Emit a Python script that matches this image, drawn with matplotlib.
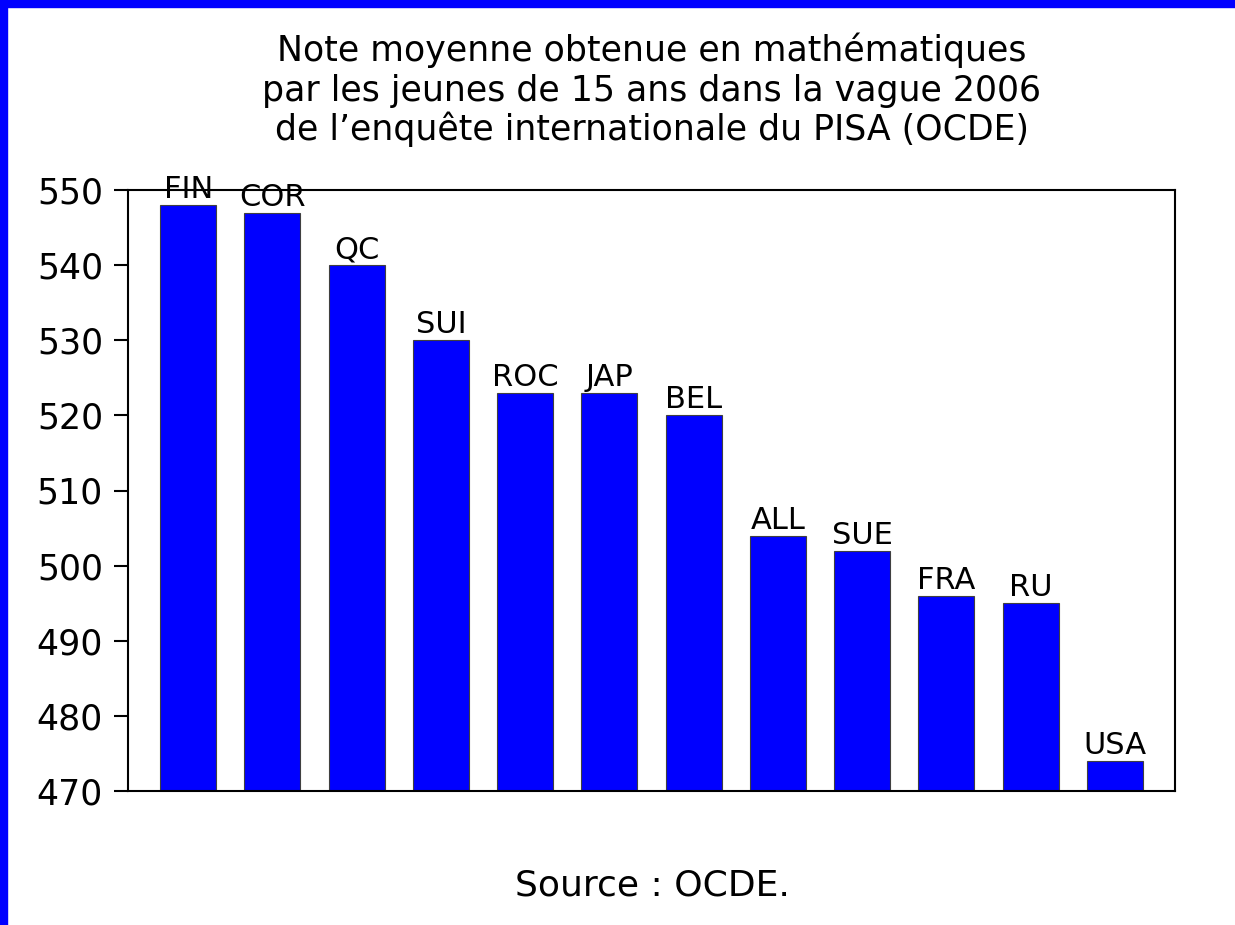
import matplotlib
matplotlib.use("Agg")
import matplotlib.pyplot as plt
from matplotlib.patches import Rectangle

plt.rcParams['font.family'] = ['DejaVu Sans']

countries = ["FIN", "COR", "QC", "SUI", "ROC", "JAP", "BEL", "ALL", "SUE", "FRA", "RU", "USA"]
scores = [548, 547, 540, 530, 523, 523, 520, 504, 502, 496, 495, 474]
yticks = [470, 480, 490, 500, 510, 520, 530, 540, 550]

title_lines = ["Note moyenne obtenue en mathématiques",
               "par les jeunes de 15 ans dans la vague 2006",
               "de l\u2019enquête internationale du PISA (OCDE)"]
source = "Source : OCDE."

W, H = 1235, 925
fig = plt.figure(figsize=(W / 100, H / 100), dpi=100)
fig.patch.set_facecolor("white")

# blue frame on top and left
fig.patches.append(Rectangle((0, 1 - 7 / H), 1, 7 / H, transform=fig.transFigure,
                             color="#0000FF", zorder=0))
fig.patches.append(Rectangle((0, 0), 7 / W, 1, transform=fig.transFigure,
                             color="#0000FF", zorder=0))

ax = fig.add_axes([128 / W, 1 - 791 / H, (1175 - 128) / W, (791 - 190) / H])
x = list(range(len(countries)))
ax.bar(x, scores, width=0.667, bottom=0, color="#0000FF", edgecolor="#404040",
       linewidth=0.8, zorder=2)
ax.set_ylim(470, 550)
ax.set_xlim(-0.714, len(countries) - 1 + 0.714)
ax.set_yticks(yticks)
ax.set_yticklabels([str(t) for t in yticks], fontsize=25)
ax.tick_params(axis='y', direction='out', length=10, width=1.5, pad=8, colors='black')
ax.set_xticks([])
for s in ax.spines.values():
    s.set_linewidth(1.5)
    s.set_color("black")

for xi, (c, v) in enumerate(zip(countries, scores)):
    ax.annotate(c, (xi, v), xytext=(0, 5), textcoords="offset points",
                ha="center", va="baseline", fontsize=22, clip_on=False, zorder=3)

baselines = [61, 101, 140]
for line, yp in zip(title_lines, baselines):
    fig.text(652 / W, 1 - yp / H, line, ha="center", va="baseline", fontsize=25)

fig.text(652 / W, 1 - 896 / H, source, ha="center", va="baseline", fontsize=26)

fig.savefig("out.png", dpi=100, facecolor="white")
